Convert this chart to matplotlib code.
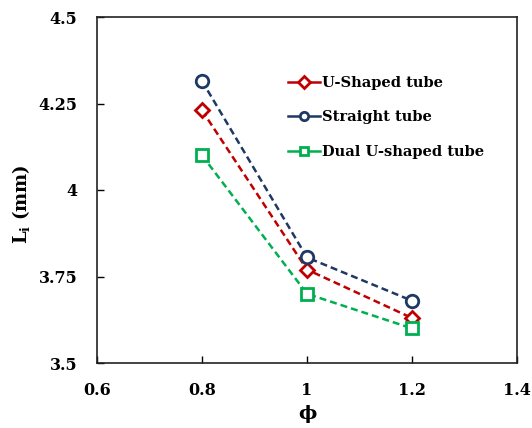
import matplotlib
matplotlib.use("Agg")
import matplotlib.pyplot as plt

phi = [0.8, 1.0, 1.2]
u_shaped = [4.23, 3.77, 3.63]
straight = [4.315, 3.805, 3.68]
dual_u = [4.10, 3.70, 3.60]

x_ticks = [0.6, 0.8, 1.0, 1.2, 1.4]
x_tick_labels = ["0.6", "0.8", "1", "1.2", "1.4"]
y_ticks = [3.5, 3.75, 4.0, 4.25, 4.5]
y_tick_labels = ["3.5", "3.75", "4", "4.25", "4.5"]

plt.rcParams["font.family"] = ["DejaVu Serif"]
plt.rcParams["font.weight"] = "bold"

fig = plt.figure(figsize=(5.32, 4.28), dpi=100)
ax = fig.add_axes([97 / 532, 1 - 363 / 428, 420 / 532, 346 / 428])

style = dict(linestyle=(0, (2.8, 1.6)), linewidth=1.8, markersize=9,
             markerfacecolor="white", markeredgewidth=2)
ax.plot(phi, u_shaped, marker="D", color="#C00000", label="U-Shaped tube",
        **{**style, "markersize": 7.5})
ax.plot(phi, straight, marker="o", color="#1F3864", label="Straight tube", **style)
ax.plot(phi, dual_u, marker="s", color="#00B050", label="Dual U-shaped tube", **style)

ax.set_xlim(0.6, 1.4)
ax.set_ylim(3.5, 4.5)
ax.set_xticks(x_ticks)
ax.set_xticklabels(x_tick_labels)
ax.set_yticks(y_ticks)
ax.set_yticklabels(y_tick_labels)
ax.tick_params(direction="in", length=5, width=1, labelsize=11.5)
ax.tick_params(axis="x", pad=14)
ax.tick_params(axis="y", pad=14)
for lbl in ax.get_xticklabels() + ax.get_yticklabels():
    lbl.set_fontweight("bold")
for s in ax.spines.values():
    s.set_linewidth(1.2)
    s.set_color("#222222")

ax.set_xlabel("ϕ", fontsize=14, fontweight="bold", labelpad=4)
ax.set_ylabel(r"L$_\mathregular{i}$ (mm)", fontsize=13, fontweight="bold")
ax.yaxis.set_label_coords(-0.155, 0.46)

leg = ax.legend(loc="upper left", bbox_to_anchor=(0.455, 0.83), frameon=False,
                borderpad=0, borderaxespad=0,
                handlelength=2.2, handletextpad=0.15, labelspacing=1.4,
                prop={"weight": "bold", "size": 10.5})
for h in leg.legend_handles:
    h.set_markersize(6)
    h.set_linestyle("-")

fig.savefig("out.png", dpi=100)
